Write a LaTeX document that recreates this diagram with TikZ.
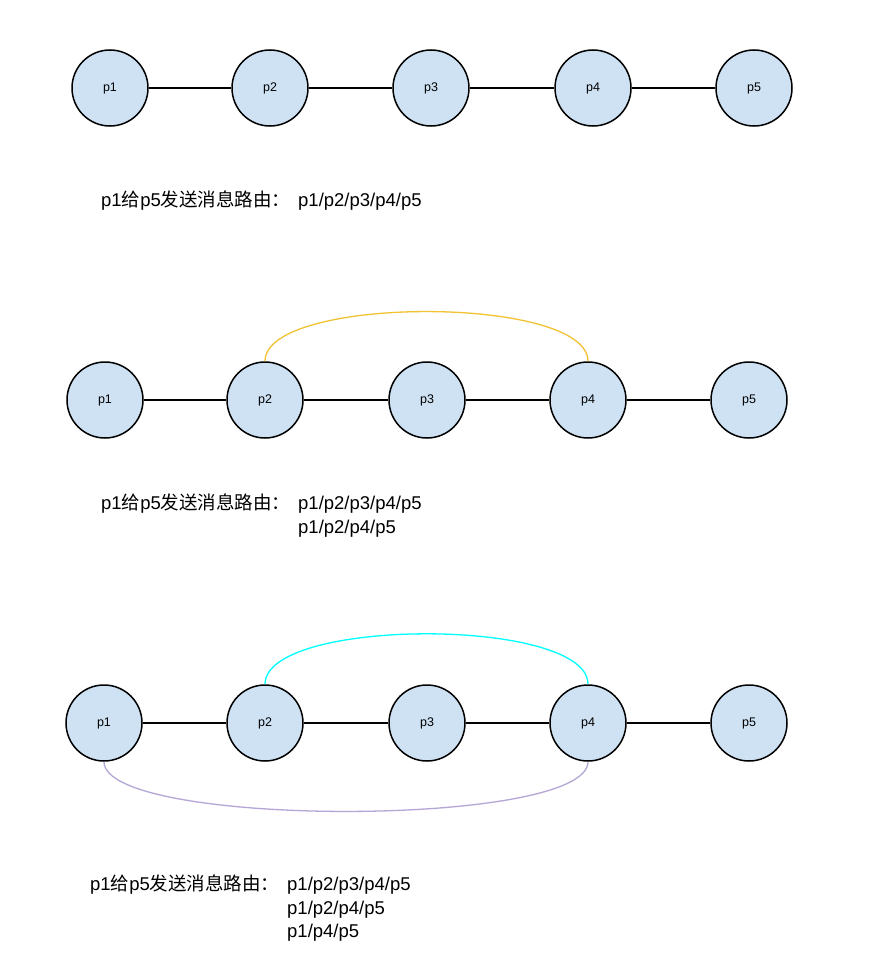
\documentclass[tikz,border=0pt]{standalone}
\usepackage{fontspec}
\setmainfont{Liberation Sans}
\newfontfamily\cjk{Noto Sans CJK SC}
\definecolor{nodefill}{HTML}{CFE2F3}
\definecolor{arcyellow}{HTML}{F1C232}
\definecolor{arccyan}{HTML}{00FFFF}
\definecolor{arcpurple}{HTML}{B4A7D6}
\begin{document}
\begin{tikzpicture}[x=1pt,y=-1pt,
  pnode/.style={circle,draw=black,line width=1.5pt,fill=nodefill,minimum size=76pt,inner sep=0pt,font=\fontsize{12.5}{14}\selectfont},
  link/.style={draw=black,line width=1.5pt},
  arc/.style={line width=1.3pt},
  lbl/.style={anchor=west,inner sep=0pt,font=\fontsize{18.5}{22}\selectfont},
  path/.style={anchor=north west,inner sep=0pt,align=left,font=\fontsize{18.5}{23.5}\selectfont}]
\useasboundingbox (0,0) rectangle (882,974);
\fill[white] (0,0) rectangle (882,974);
% Row 1
\node[pnode] (a1) at (110,88) {p1};
\node[pnode] (a2) at (270,88) {p2};
\node[pnode] (a3) at (431,88) {p3};
\node[pnode] (a4) at (593,88) {p4};
\node[pnode] (a5) at (754,88) {p5};
\draw[link] (a1) -- (a2);
\draw[link] (a2) -- (a3);
\draw[link] (a3) -- (a4);
\draw[link] (a4) -- (a5);
\node[lbl] (t1) at (101,201) {p1{\cjk 给}p5{\cjk 发送消息路由：}};
\node[path] (r1) at (298,193) {p1/p2/p3/p4/p5};
% Row 2
\node[pnode] (b1) at (105,400) {p1};
\node[pnode] (b2) at (265,400) {p2};
\node[pnode] (b3) at (427,400) {p3};
\node[pnode] (b4) at (588,400) {p4};
\node[pnode] (b5) at (749,400) {p5};
\draw[link] (b1) -- (b2);
\draw[link] (b2) -- (b3);
\draw[link] (b3) -- (b4);
\draw[link] (b4) -- (b5);
\draw[arc,arcyellow] (b2.north) .. controls (265,295) and (588,295) .. (b4.north);
\node[lbl] (t2) at (101,504) {p1{\cjk 给}p5{\cjk 发送消息路由：}};
\node[path] (r2) at (298,496) {p1/p2/p3/p4/p5\\p1/p2/p4/p5};
% Row 3
\node[pnode] (c1) at (104,723) {p1};
\node[pnode] (c2) at (265,723) {p2};
\node[pnode] (c3) at (427,723) {p3};
\node[pnode] (c4) at (588,723) {p4};
\node[pnode] (c5) at (749,723) {p5};
\draw[link] (c1) -- (c2);
\draw[link] (c2) -- (c3);
\draw[link] (c3) -- (c4);
\draw[link] (c4) -- (c5);
\draw[arc,arccyan] (c2.north) .. controls (265,617) and (588,617) .. (c4.north);
\draw[arc,arcpurple] (c1.south) .. controls (104,828) and (588,828) .. (c4.south);
\node[lbl] (t3) at (90,885) {p1{\cjk 给}p5{\cjk 发送消息路由：}};
\node[path] (r3) at (287,877) {p1/p2/p3/p4/p5\\p1/p2/p4/p5\\p1/p4/p5};
\end{tikzpicture}
\end{document}
